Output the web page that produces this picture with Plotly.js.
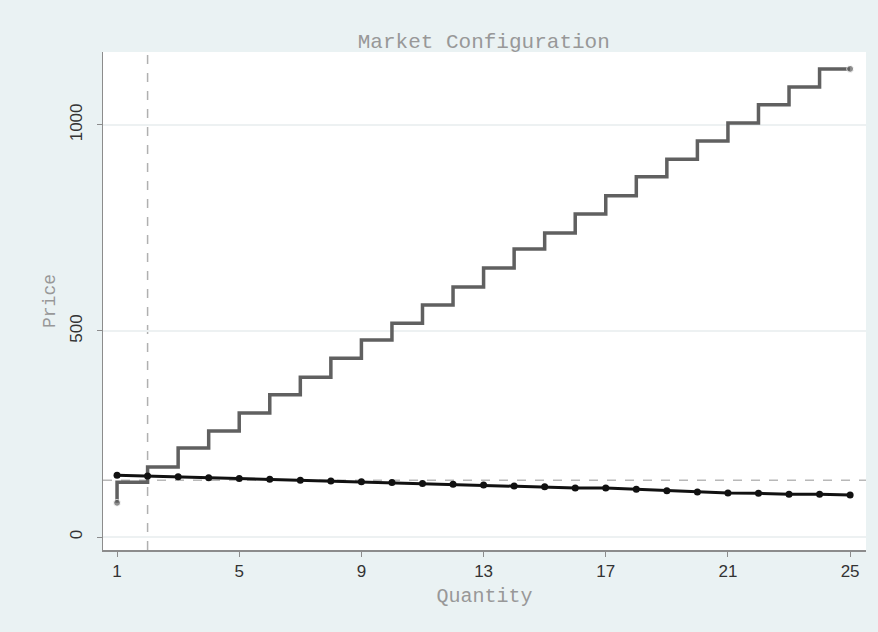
<!DOCTYPE html>
<html>
<head>
<meta charset="utf-8">
<script src="https://cdn.plot.ly/plotly-3.0.1.min.js"></script>
<style>
  html, body { margin: 0; padding: 0; background: #eaf2f3; }
  #chart { width: 878px; height: 632px; }
</style>
</head>
<body>
<div id="chart"></div>
<script>
// Data
var quantity = [1,2,3,4,5,6,7,8,9,10,11,12,13,14,15,16,17,18,19,20,21,22,23,24,25];
var supplyPrice = [83,133,170,216,257,301,345,388,434,478,519,563,607,653,699,738,784,828,874,917,961,1005,1049,1092,1136];
var demandPrice = [150,148,146,144,142,140,138,136,134,132,130,128,126,124,122,119,119,116,112,109,107,106,104,104,102];
var eqQuantity = [2];
var eqPrice = [138];
var xTicks = [1,5,9,13,17,21,25];
var yTicks = [0,500,1000];

// markers shown only at the two ends of the step line
var supplyMarkerSize = quantity.map(function (q, i) {
  return (i === 0 || i === quantity.length - 1) ? 7 : 0;
});

var traces = [
  {
    x: quantity, y: supplyPrice, type: 'scatter', mode: 'lines+markers',
    line: {shape: 'vh', color: '#606060', width: 3.5},
    marker: {color: '#606060', size: supplyMarkerSize},
    showlegend: false, hoverinfo: 'x+y'
  },
  {
    x: quantity, y: demandPrice, type: 'scatter', mode: 'lines+markers',
    line: {color: '#111111', width: 3},
    marker: {color: '#111111', size: 7},
    showlegend: false, hoverinfo: 'x+y'
  }
];

var shapes = [
  {type: 'line', xref: 'x', yref: 'paper', x0: eqQuantity[0], x1: eqQuantity[0], y0: 0, y1: 1,
   line: {color: '#b0b0b0', width: 1.5, dash: 'dash'}, layer: 'below'},
  {type: 'line', xref: 'paper', yref: 'y', x0: 0, x1: 1, y0: eqPrice[0], y1: eqPrice[0],
   line: {color: '#b8b8b8', width: 1.5, dash: 'dash'}, layer: 'below'}
];

var monoFont = '"Liberation Mono", "DejaVu Sans Mono", monospace';
var tickFont = {family: '"Liberation Sans", Arial, sans-serif', size: 17, color: '#333333'};

var layout = {
  width: 878, height: 632,
  paper_bgcolor: '#eaf2f3',
  plot_bgcolor: '#ffffff',
  margin: {l: 103, r: 12, t: 52, b: 82},
  title: {
    text: 'Market Configuration',
    font: {family: monoFont, size: 21, color: '#989898'},
    x: 0.551, xanchor: 'center', y: 0.935, yanchor: 'middle'
  },
  xaxis: {
    range: [0.54, 25.52],
    tickvals: xTicks, ticktext: xTicks.map(String),
    showgrid: false, zeroline: false,
    showline: true, linecolor: '#8c8c8c', linewidth: 1.5,
    ticks: 'outside', ticklen: 5, tickcolor: '#8c8c8c', tickwidth: 1,
    tickfont: tickFont,
    title: {text: 'Quantity', font: {family: monoFont, size: 20, color: '#989898'}, standoff: 8}
  },
  yaxis: {
    range: [-31.5, 1177],
    tickvals: yTicks, ticktext: yTicks.map(String),
    tickangle: -90,
    showgrid: true, gridcolor: '#edf1f2', gridwidth: 1.5,
    zeroline: false,
    showline: true, linecolor: '#8c8c8c', linewidth: 1.5,
    ticks: 'outside', ticklen: 5, tickcolor: '#8c8c8c', tickwidth: 1,
    ticklabelstandoff: 8,
    tickfont: tickFont,
    title: {text: 'Price', font: {family: monoFont, size: 18, color: '#989898'}, standoff: 6}
  },
  shapes: shapes,
  showlegend: false
};

Plotly.newPlot('chart', traces, layout, {displayModeBar: false, staticPlot: true});
</script>
</body>
</html>
